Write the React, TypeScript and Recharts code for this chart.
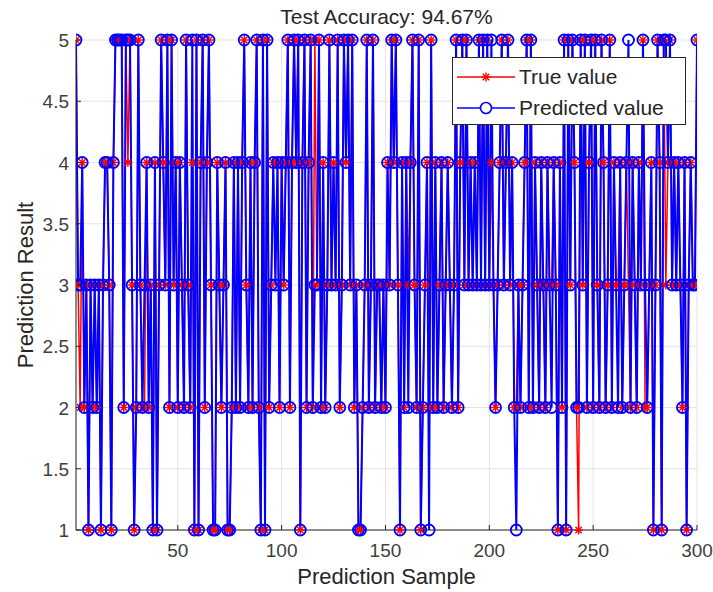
import React from 'react';
import { LineChart, Line, XAxis, YAxis, CartesianGrid } from 'recharts';

// true class per sample (samples 1..300)
const TRUE_VALUES = [
  5, 3, 2, 4, 2, 3, 1, 3, 2, 3,
  2, 3, 1, 3, 4, 4, 3, 1, 4, 5,
  5, 5, 5, 2, 5, 4, 5, 3, 1, 2,
  5, 3, 2, 2, 4, 2, 3, 1, 4, 1,
  3, 5, 4, 3, 5, 2, 5, 3, 4, 2,
  4, 3, 2, 5, 3, 2, 4, 1, 5, 1,
  4, 5, 2, 4, 5, 3, 1, 1, 4, 3,
  2, 3, 4, 1, 1, 2, 4, 2, 4, 2,
  4, 5, 3, 2, 4, 2, 4, 5, 2, 1,
  5, 1, 5, 2, 3, 4, 4, 4, 2, 4,
  3, 4, 5, 2, 4, 5, 4, 5, 1, 4,
  5, 2, 4, 5, 2, 5, 3, 5, 2, 4,
  2, 3, 5, 3, 4, 3, 5, 2, 3, 5,
  4, 5, 3, 5, 2, 3, 1, 1, 2, 3,
  5, 2, 3, 5, 2, 3, 3, 2, 3, 2,
  4, 3, 5, 4, 5, 3, 1, 4, 2, 4,
  3, 4, 5, 3, 2, 5, 1, 2, 3, 4,
  2, 5, 2, 4, 2, 3, 4, 2, 3, 4,
  3, 2, 3, 5, 2, 4, 5, 3, 5, 3,
  4, 3, 4, 3, 5, 3, 5, 3, 5, 3,
  4, 3, 2, 3, 4, 5, 3, 4, 5, 3,
  4, 2, 2, 3, 2, 3, 4, 5, 2, 5,
  2, 4, 3, 2, 4, 3, 2, 4, 3, 3,
  4, 3, 1, 4, 2, 5, 1, 5, 3, 5,
  4, 2, 1, 5, 3, 5, 2, 4, 5, 2,
  5, 3, 2, 5, 4, 2, 3, 5, 2, 4,
  3, 3, 4, 2, 3, 4, 3, 2, 4, 3,
  2, 4, 3, 5, 2, 2, 3, 4, 1, 3,
  5, 4, 1, 5, 3, 4, 5, 3, 4, 3,
  4, 3, 2, 4, 1, 3, 4, 3, 3, 5,
];

// samples where the prediction differs: [sample, predicted class]
const WRONG_PREDICTIONS: [number, number][] = [
  [3, 3], [26, 5], [34, 3], [57, 5], [97, 3], [116, 3], [161, 2], [171, 1],
  [201, 5], [213, 1], [230, 2], [243, 2], [262, 2], [267, 5], [275, 3], [285, 5],
];

const X_TICKS = [50, 100, 150, 200, 250, 300];
const Y_TICKS = [1, 1.5, 2, 2.5, 3, 3.5, 4, 4.5, 5];

const wrong = new Map(WRONG_PREDICTIONS);
const data = TRUE_VALUES.map((v, i) => ({
  sample: i + 1,
  trueValue: v,
  predicted: wrong.get(i + 1) ?? v,
}));

const TEXT = '#262626';
const FONT = '"Liberation Sans", Arial, Helvetica, sans-serif';

function Star(props: any) {
  const { cx, cy, index } = props;
  if (cx == null || cy == null) return <g key={`s${index}`} />;
  const r = 4.5, d = 3.2;
  return (
    <g key={`s${index}`} stroke="#ff0000" strokeWidth={1.4}>
      <line x1={cx - r} y1={cy} x2={cx + r} y2={cy} />
      <line x1={cx} y1={cy - r} x2={cx} y2={cy + r} />
      <line x1={cx - d} y1={cy - d} x2={cx + d} y2={cy + d} />
      <line x1={cx - d} y1={cy + d} x2={cx + d} y2={cy - d} />
    </g>
  );
}

const BottomTick = ({ x, y, payload }: any) => (
  <g>
    <line x1={x} y1={y} x2={x} y2={y - 5} stroke={TEXT} />
    <text x={x} y={y + 27} textAnchor="middle" fill="#404040" fontSize={19} fontFamily={FONT}>
      {payload.value}
    </text>
  </g>
);

const LeftTick = ({ x, y, payload }: any) => (
  <g>
    <line x1={x} y1={y} x2={x + 5} y2={y} stroke={TEXT} />
    <text x={x - 7} y={y + 7} textAnchor="end" fill="#404040" fontSize={19} fontFamily={FONT}>
      {payload.value}
    </text>
  </g>
);

const TopTick = ({ x, y }: any) => <line x1={x} y1={y} x2={x} y2={y + 5} stroke={TEXT} />;
const RightTick = ({ x, y }: any) => <line x1={x} y1={y} x2={x - 5} y2={y} stroke={TEXT} />;

function LegendBox() {
  return (
    <div style={{
      position: 'absolute', left: 452, top: 57, width: 234, height: 68,
      background: '#fff', border: '1px solid #262626', boxSizing: 'border-box',
      fontFamily: FONT, fontSize: 21, color: TEXT,
    }}>
      <div style={{ display: 'flex', alignItems: 'center', height: 33, paddingTop: 2 }}>
        <svg width={62} height={20} style={{ marginLeft: 2 }}>
          <line x1={2} y1={10} x2={60} y2={10} stroke="#ff0000" strokeWidth={1.4} />
          <g stroke="#ff0000" strokeWidth={1.4}>
            <line x1={26.5} y1={10} x2={35.5} y2={10} />
            <line x1={31} y1={5.5} x2={31} y2={14.5} />
            <line x1={27.8} y1={6.8} x2={34.2} y2={13.2} />
            <line x1={27.8} y1={13.2} x2={34.2} y2={6.8} />
          </g>
        </svg>
        <span style={{ marginLeft: 2 }}>True value</span>
      </div>
      <div style={{ display: 'flex', alignItems: 'center', height: 30 }}>
        <svg width={62} height={20} style={{ marginLeft: 2 }}>
          <line x1={2} y1={10} x2={60} y2={10} stroke="#0000ff" strokeWidth={1.4} />
          <circle cx={31} cy={10} r={5.5} fill="#fff" stroke="#0000ff" strokeWidth={1.6} />
        </svg>
        <span style={{ marginLeft: 2 }}>Predicted value</span>
      </div>
    </div>
  );
}

export default function App() {
  return (
    <div style={{ position: 'absolute', left: 0, top: 0, width: 713, height: 592, background: '#fff' }}>
      <div style={{
        position: 'absolute', left: 76, width: 621, top: 5, textAlign: 'center',
        fontFamily: FONT, fontSize: 21, color: TEXT,
      }}>
        Test Accuracy: 94.67%
      </div>
      <LineChart
        width={713}
        height={592}
        data={data}
        margin={{ top: 40, right: 16, bottom: 0, left: 0 }}
      >
        <CartesianGrid stroke="#e3e3e3" strokeWidth={1} />
        <XAxis
          dataKey="sample" type="number" domain={[1, 300]} ticks={X_TICKS}
          height={62} tickSize={0} tickMargin={0} tickLine={false}
          axisLine={{ stroke: TEXT }} tick={<BottomTick />} allowDataOverflow
        />
        <XAxis
          xAxisId="top" orientation="top" type="number" domain={[1, 300]} ticks={X_TICKS}
          height={0} tickSize={0} tickLine={false} axisLine={{ stroke: TEXT }} tick={<TopTick />}
        />
        <YAxis
          type="number" domain={[1, 5]} ticks={Y_TICKS} width={76}
          tickSize={0} tickMargin={0} tickLine={false}
          axisLine={{ stroke: TEXT }} tick={<LeftTick />}
        />
        <YAxis
          yAxisId="right" orientation="right" type="number" domain={[1, 5]} ticks={Y_TICKS}
          width={0} tickSize={0} tickLine={false} axisLine={{ stroke: TEXT }} tick={<RightTick />}
        />
        <Line
          dataKey="trueValue" stroke="#ff0000" strokeWidth={1.5}
          dot={Star} isAnimationActive={false}
        />
        <Line
          dataKey="predicted" stroke="#0000ff" strokeWidth={2}
          dot={{ r: 5.5, stroke: '#0000ff', strokeWidth: 1.8, fill: 'none' }} isAnimationActive={false}
        />
      </LineChart>
      <LegendBox />
      <div style={{
        position: 'absolute', left: 76, width: 621, top: 564, textAlign: 'center',
        fontFamily: FONT, fontSize: 22, color: TEXT,
      }}>
        Prediction Sample
      </div>
      <div style={{
        position: 'absolute', left: 26, top: 285, width: 0, height: 0,
      }}>
        <div style={{
          position: 'absolute', transform: 'translate(-50%, -50%) rotate(-90deg)',
          whiteSpace: 'nowrap', fontFamily: FONT, fontSize: 22, color: TEXT,
        }}>
          Prediction Result
        </div>
      </div>
    </div>
  );
}
